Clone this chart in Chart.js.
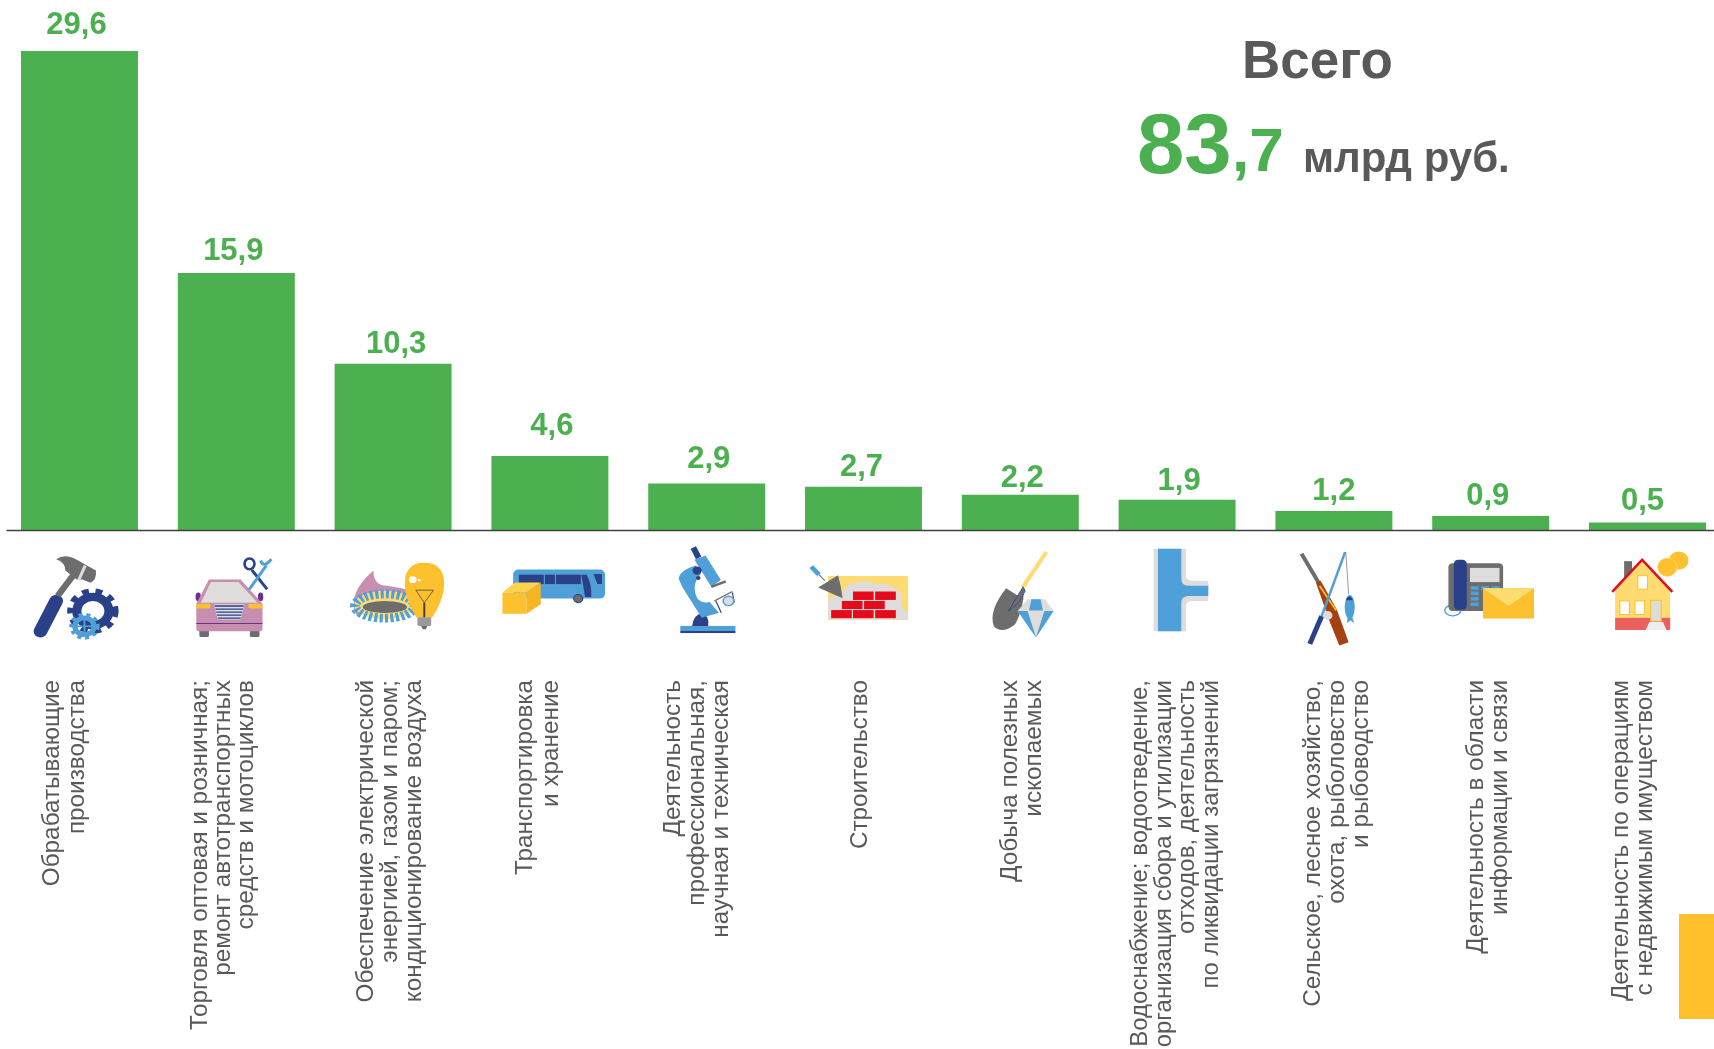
<!DOCTYPE html>
<html lang="ru">
<head>
<meta charset="utf-8">
<title>Всего 83,7 млрд руб.</title>
<script src="https://cdn.jsdelivr.net/npm/chart.js@4/dist/chart.umd.min.js"></script>
<style>
    html, body { margin: 0; padding: 0; width: 1714px; height: 1049px; overflow: hidden; background: #fff; }
    #wrap { position: absolute; left: 0; top: 0; width: 1727px; height: 1049px; }
    #icons { position: absolute; left: 0; top: 0; }
    .txt { position: absolute; font-family: "Liberation Sans", Arial, sans-serif; font-weight: bold; white-space: pre; line-height: 1; }
    .gray { color: #595959; }
    .green { color: #4CAF50; }
    #corner { position: absolute; left: 1679px; top: 914px; width: 35px; height: 105px; background: #FFC02B; }
</style>
</head>
<body>
<div id="wrap"><canvas id="chart" width="1727" height="1049"></canvas></div>
<svg id="icons" width="1714" height="1049"></svg>
<div id="corner"></div>
<div class="txt gray" style="left:1242px;top:33px;font-size:53px">Всего</div>
<div class="txt green" style="left:1137px;top:101px;font-size:85px">83</div>
<div class="txt green" style="left:1232px;top:119px;font-size:62px">,7</div>
<div class="txt gray" style="left:1303px;top:137px;font-size:42px">млрд руб.</div>
<script>
// --- Data ---
const categories = [
    ["Обрабатывающие", "производства"],
    ["Торговля оптовая и розничная;", "ремонт автотранспортных", "средств и мотоциклов"],
    ["Обеспечение электрической", "энергией, газом и паром;", "кондиционирование воздуха"],
    ["Транспортировка", "и хранение"],
    ["Деятельность", "профессиональная,", "научная и техническая"],
    ["Строительство"],
    ["Добыча полезных", "ископаемых"],
    ["Водоснабжение; водоотведение,", "организация сбора и утилизации", "отходов, деятельность", "по ликвидации загрязнений"],
    ["Сельское, лесное хозяйство,", "охота, рыболовство", "и рыбоводство"],
    ["Деятельность в области", "информации и связи"],
    ["Деятельность по операциям", "с недвижимым имуществом"]
];
const values = [29.6, 15.9, 10.3, 4.6, 2.9, 2.7, 2.2, 1.9, 1.2, 0.9, 0.5];

const GREEN = "#4CAF50";
const GRAY = "#595959";

// value labels sit a little unevenly in the original
const labelNudgeX = [-3, -3, 3, 2, 2, -2, 2, 2, 0, -3, -5];
const labelNudgeY = [-26, -21, -19, -30, -24, -19, -16, -18, -20, -19, -21];
// the category text blocks too
const catNudgeX = [-14.5, -13, -2.5, -11.5, -9.5, -3.5, 2.5, -1, 3.5, -2.5, -14.5];
const catPitch = [25.6, 23, 24.2, 26, 24, 25, 24, 23.5, 24, 24.5, 24];
const catFontSize = [24.3, 24.3, 24.3, 24.3, 24.3, 24.3, 24.3, 24, 24.3, 24.3, 24.3];

// --- Small inline plugin: value labels, category labels and the base line ---
const barLabels = {
    id: "barLabels",
    afterDatasetsDraw(chart) {
        const ctx = chart.ctx;
        const meta = chart.getDatasetMeta(0);
        const y0 = chart.scales.y.getPixelForValue(0);
        ctx.save();
        ctx.strokeStyle = "#404040";
        ctx.lineWidth = 1.5;
        ctx.beginPath();
        ctx.moveTo(6.5, y0);
        ctx.lineTo(1714, y0);
        ctx.stroke();
        ctx.fillStyle = GREEN;
        ctx.font = 'bold 31px "Liberation Sans", Arial, sans-serif';
        ctx.textAlign = "center";
        ctx.textBaseline = "middle";
        meta.data.forEach((bar, i) => {
            ctx.fillText(values[i].toFixed(1).replace(".", ","), bar.x + labelNudgeX[i], bar.y + labelNudgeY[i]);
        });

        ctx.fillStyle = GRAY;
        ctx.textAlign = "right";
        categories.forEach((lines, i) => {
            ctx.save();
            ctx.font = catFontSize[i] + 'px "Liberation Sans", Arial, sans-serif';
            ctx.translate(chart.scales.x.getPixelForValue(i) + catNudgeX[i], y0 + 149.5);
            ctx.rotate(-Math.PI / 2);
            lines.forEach((line, k) => {
                ctx.fillText(line, 0, (k - (lines.length - 1) / 2) * catPitch[i]);
            });
            ctx.restore();
        });
        ctx.restore();
    }
};

const chart = new Chart(document.getElementById("chart"), {
    type: "bar",
    data: {
        labels: categories,
        datasets: [{ data: values, backgroundColor: GREEN, barPercentage: 0.746, categoryPercentage: 1 }]
    },
    options: {
        responsive: false,
        animation: false,
        layout: { padding: { left: 1.1, right: 1.1, top: 0, bottom: 0 } },
        plugins: { legend: { display: false }, tooltip: { enabled: false } },
        scales: {
            x: {
                grid: { display: false, drawTicks: false },
                border: { display: false },
                afterFit: scale => { scale.height = 518.5; },
                ticks: { display: false, autoSkip: false }
            },
            y: { display: false, min: 0, max: 32.75 }
        }
    },
    plugins: [barLabels]
});

// --- Pictograms, drawn under each bar. Shapes are in crop units, sx/sy bring them to pixels ---
const NAVY = "#2A4089", BLUE = "#4F9FD9", YEL = "#FDC02F", LYEL = "#FEDC72", GR = "#6D6D6D", LG = "#DEDDDC", RED = "#E30B1C";

function gear(cx, cy, r, c, w) {
    return `<circle cx="${cx}" cy="${cy}" r="${r}" fill="none" stroke="${c}" stroke-width="${w}"/>` +
        `<circle cx="${cx}" cy="${cy}" r="${r + w * 0.7}" fill="none" stroke="${c}" stroke-width="${w * 0.7}" stroke-dasharray="${r * 0.42} ${r * 0.42}"/>`;
}

const icons = [
    { a: 207, sx: 2.613, s: `
        <line x1="105" y1="330" x2="146" y2="240" stroke="${NAVY}" stroke-width="36" stroke-linecap="round"/>
        <line x1="150" y1="225" x2="190" y2="165" stroke="${GR}" stroke-width="17"/>
        <path d="M146 116 Q170 98 200 118 L250 150 Q252 180 235 186 L215 176 L200 176 L170 150 Q170 125 146 116Z" fill="${GR}"/>
        <line x1="222" y1="135" x2="205" y2="178" stroke="${LG}" stroke-width="8"/>
        ${gear(242, 270, 42, NAVY, 24)}
        ${gear(220, 315, 25, BLUE, 14)}
        <line x1="195" y1="315" x2="245" y2="315" stroke="${BLUE}" stroke-width="5"/>
        <line x1="220" y1="285" x2="220" y2="345" stroke="${BLUE}" stroke-width="5"/>` },
    { a: 616.5, sx: 2.613, s: `
        <rect x="520" y="325" width="25" height="22" rx="4" fill="${GR}"/>
        <rect x="652" y="325" width="25" height="22" rx="4" fill="${GR}"/>
        <ellipse cx="517" cy="228" rx="7" ry="13" fill="#6B2F91"/>
        <ellipse cx="680" cy="228" rx="7" ry="13" fill="#6B2F91"/>
        <path d="M512 248 L545 176 H628 L685 248 V322 Q685 330 675 330 H522 Q512 330 512 322Z" fill="#C68FB0"/>
        <path d="M524 245 L550 184 H622 L672 245Z" fill="${LG}"/>
        <rect x="512" y="248" width="37" height="14" rx="4" fill="${YEL}"/>
        <rect x="648" y="248" width="37" height="14" rx="4" fill="${YEL}"/>
        <path d="M558 250 H638 L628 295 H568Z" fill="${LG}"/>
        <path d="M560 255 H636 M562 264 H634 M564 273 H632 M566 282 H630 M568 291 H628" stroke="${NAVY}" stroke-width="4"/>
        <line x1="512" y1="307" x2="685" y2="307" stroke="#6B2F91" stroke-width="3"/>
        <line x1="657" y1="148" x2="697" y2="205" stroke="${NAVY}" stroke-width="8"/>
        <ellipse cx="651" cy="130" rx="13" ry="16" fill="none" stroke="${NAVY}" stroke-width="7"/>
        <line x1="650" y1="206" x2="695" y2="135" stroke="${BLUE}" stroke-width="8"/>
        <path d="M680 120 Q688 145 708 116" fill="none" stroke="${BLUE}" stroke-width="8"/>` },
    { a: 1026.5, sx: 2.613, s: `
        <path d="M930 280 Q905 220 975 150 Q975 195 1010 195 Q1050 200 1090 215 L1090 270Z" fill="#C68FB0"/>
        <ellipse cx="1005" cy="252" rx="80" ry="42" fill="${LYEL}"/>
        <ellipse cx="1005" cy="255" rx="78" ry="36" fill="none" stroke="${BLUE}" stroke-width="26" stroke-dasharray="8 6"/>
        <ellipse cx="1005" cy="258" rx="58" ry="18" fill="${GR}"/>
        <path d="M1057 190 Q1057 127 1108 127 Q1160 127 1160 190 Q1160 235 1128 290 H1088 Q1057 235 1057 190Z" fill="${YEL}"/>
        <circle cx="1078" cy="177" r="10" fill="#fff"/>
        <circle cx="1095" cy="178" r="4" fill="#fff"/>
        <path d="M1086 208 H1132 L1108 245 Z" fill="none" stroke="#404040" stroke-width="2"/>
        <line x1="1108" y1="245" x2="1108" y2="290" stroke="#404040" stroke-width="5"/>
        <rect x="1090" y="288" width="36" height="26" rx="4" fill="#9a9a9a"/>
        <path d="M1100 314 H1116 L1112 324 H1104Z" fill="${GR}"/>` },
    { a: 1436, sx: 2.613, s: `
        <rect x="1340" y="147" width="240" height="86" rx="14" fill="${BLUE}"/>
        <rect x="1355" y="162" width="65" height="28" fill="${NAVY}"/>
        <rect x="1423" y="162" width="26" height="28" fill="${NAVY}"/>
        <rect x="1452" y="162" width="65" height="28" fill="${NAVY}"/>
        <path d="M1518 162 H1532 Q1546 190 1544 228 H1528 Z" fill="${NAVY}"/>
        <path d="M1550 160 H1572 V190 H1560Z" fill="${NAVY}"/>
        <circle cx="1510" cy="233" r="12" fill="${GR}" stroke="${NAVY}" stroke-width="3"/>
        <path d="M1312 215 H1375 V278 H1312Z" fill="${YEL}"/>
        <path d="M1312 215 L1345 185 H1412 L1375 215Z" fill="#FFD34F"/>
        <path d="M1375 215 L1412 185 V250 L1375 278Z" fill="#F6B523"/>` },
    { a: 278, sx: 2.613, s: `
        <rect x="209" y="314" width="144" height="15" fill="${BLUE}"/>
        <rect x="209" y="329" width="144" height="6" fill="${NAVY}"/>
        <path d="M240 314 Q245 278 265 278 Q285 280 282 314Z" fill="${NAVY}"/>
        <path d="M236 85 L250 78 L264 108 L250 116Z" fill="${NAVY}"/>
        <path d="M205 175 Q205 150 250 135 L262 160 Q235 195 255 235 Q270 250 285 242 L310 275 L265 290 L215 200Z" fill="${BLUE}"/>
        <path d="M246 118 L275 105 L315 178 L290 198Z" fill="${BLUE}"/>
        <circle cx="253" cy="150" r="12" fill="${NAVY}"/>
        <circle cx="256" cy="172" r="6" fill="${NAVY}"/>
        <line x1="290" y1="198" x2="328" y2="182" stroke="${GR}" stroke-width="7"/>
        <line x1="298" y1="240" x2="345" y2="212" stroke="${GR}" stroke-width="4"/>
        <path d="M302 240 L316 275 M345 215 L350 245" stroke="${NAVY}" stroke-width="3"/>
        <circle cx="335" cy="240" r="14" fill="${LG}" stroke="${BLUE}" stroke-width="4"/>` },
    { a: 688.5, sx: 2.613, s: `
        <rect x="596" y="166" width="209" height="130" fill="${LYEL}"/>
        <path d="M596 235 Q640 215 650 190 Q700 175 720 190 Q770 185 790 225 Q780 260 805 275 V296 H596Z" fill="${LG}"/>
        <g fill="${RED}">
            <rect x="661" y="212" width="54" height="25"/><rect x="719" y="212" width="54" height="25"/>
            <rect x="632" y="240" width="54" height="24"/><rect x="690" y="240" width="54" height="24"/>
            <rect x="604" y="267" width="54" height="24"/><rect x="661" y="267" width="54" height="24"/><rect x="719" y="267" width="54" height="24"/>
        </g>
        <path d="M570 200 L622 164 Q630 195 634 232Z" fill="${GR}"/>
        <line x1="588" y1="180" x2="572" y2="162" stroke="${GR}" stroke-width="3"/>
        <line x1="572" y1="162" x2="552" y2="138" stroke="${BLUE}" stroke-width="13"/>` },
    { a: 1099, sx: 2.613, s: `
        <line x1="1167" y1="95" x2="1105" y2="200" stroke="${LYEL}" stroke-width="11"/>
        <path d="M1062 202 L1100 230 L1108 200 Q1110 260 1085 310 Q1050 340 1030 315 Q1015 270 1062 202Z" fill="${GR}"/>
        <path d="M1106 198 L1068 270 L1095 245 L1112 210Z" fill="${GR}" stroke="${NAVY}" stroke-width="2"/>
        <path d="M1118 235 H1163 L1186 270 L1140 348 L1092 270Z" fill="${LG}"/>
        <path d="M1128 235 H1152 L1158 268 H1122Z" fill="${BLUE}"/>
        <path d="M1092 270 H1118 L1140 348Z M1186 270 H1162 L1140 348Z" fill="${BLUE}"/>` },
    { a: 75.3, sx: 2.78, s: `
        <path d="M10 85 H100 V165 Q100 180 120 180 H162 V240 H120 Q100 240 100 255 V330 H10Z" fill="${LG}"/>
        <path d="M22 85 H87 V175 Q87 195 107 195 H162 V225 H107 Q87 225 87 245 V330 H22Z" fill="${BLUE}"/>` },
    { a: 512, sx: 2.78, s: `
        <line x1="422" y1="100" x2="472" y2="190" stroke="${GR}" stroke-width="11"/>
        <path d="M462 185 L475 180 L520 265 L553 362 L527 372 L498 295Z" fill="#A5410F"/>
        <line x1="472" y1="195" x2="518" y2="268" stroke="${YEL}" stroke-width="5"/>
        <line x1="543" y1="95" x2="478" y2="285" stroke="${BLUE}" stroke-width="7"/>
        <line x1="478" y1="285" x2="445" y2="367" stroke="${NAVY}" stroke-width="14"/>
        <line x1="545" y1="95" x2="553" y2="220" stroke="${GR}" stroke-width="2"/>
        <ellipse cx="556" cy="258" rx="14" ry="36" fill="${BLUE}"/>
        <path d="M550 290 L548 305 L558 298 L568 305 L564 290Z" fill="${BLUE}"/>
        <path d="M545 238 Q555 215 565 238Z" fill="${NAVY}"/>
        <circle cx="495" cy="283" r="13" fill="${LG}"/>` },
    { a: 947.5, sx: 2.78, s: `
        <ellipse cx="842" cy="268" rx="22" ry="16" fill="none" stroke="${BLUE}" stroke-width="4"/>
        <rect x="830" y="128" width="152" height="142" rx="12" fill="${GR}"/>
        <rect x="845" y="118" width="36" height="148" rx="12" fill="${NAVY}"/>
        <rect x="890" y="142" width="82" height="42" fill="${LG}"/>
        <g fill="${BLUE}">
            <rect x="892" y="196" width="22" height="11"/><rect x="921" y="196" width="22" height="11"/><rect x="950" y="196" width="22" height="11"/>
            <rect x="892" y="212" width="22" height="11"/><rect x="892" y="228" width="22" height="11"/><rect x="892" y="244" width="22" height="11"/>
        </g>
        <rect x="926" y="202" width="142" height="90" fill="${YEL}"/>
        <path d="M926 202 H1068 L997 255Z" fill="${LYEL}"/>` },
    { a: 1383, sx: 2.78, s: `
        <rect x="1318" y="122" width="22" height="50" fill="${GR}"/>
        <circle cx="1470" cy="120" r="27" fill="${YEL}"/>
        <circle cx="1438" cy="140" r="27" fill="${YEL}" stroke="${LYEL}" stroke-width="2"/>
        <path d="M1293 210 L1368 118 L1446 210 V300 H1293Z" fill="${LYEL}"/>
        <path d="M1285 213 L1368 118 L1452 213" fill="none" stroke="${RED}" stroke-width="7"/>
        <rect x="1293" y="290" width="153" height="36" fill="#EC5F5F"/>
        <g fill="#fff" stroke="${YEL}" stroke-width="3">
            <rect x="1356" y="165" width="27" height="40"/>
            <rect x="1306" y="240" width="27" height="40"/>
            <rect x="1348" y="240" width="27" height="40"/>
        </g>
        <rect x="1392" y="238" width="29" height="62" fill="${LG}" stroke="${YEL}" stroke-width="3"/>
        <path d="M1388 302 H1426 L1436 326 H1378Z" fill="#EDEDED"/>` }
];

const ICON_SY = 2.964;
document.getElementById("icons").innerHTML = icons.map((ic, i) => {
    const cx = chart.scales.x.getPixelForValue(i);
    return `<g transform="translate(${cx} 520) scale(${1 / ic.sx} ${1 / ICON_SY}) translate(${-ic.a} 0)">${ic.s}</g>`;
}).join("");
</script>
</body>
</html>
